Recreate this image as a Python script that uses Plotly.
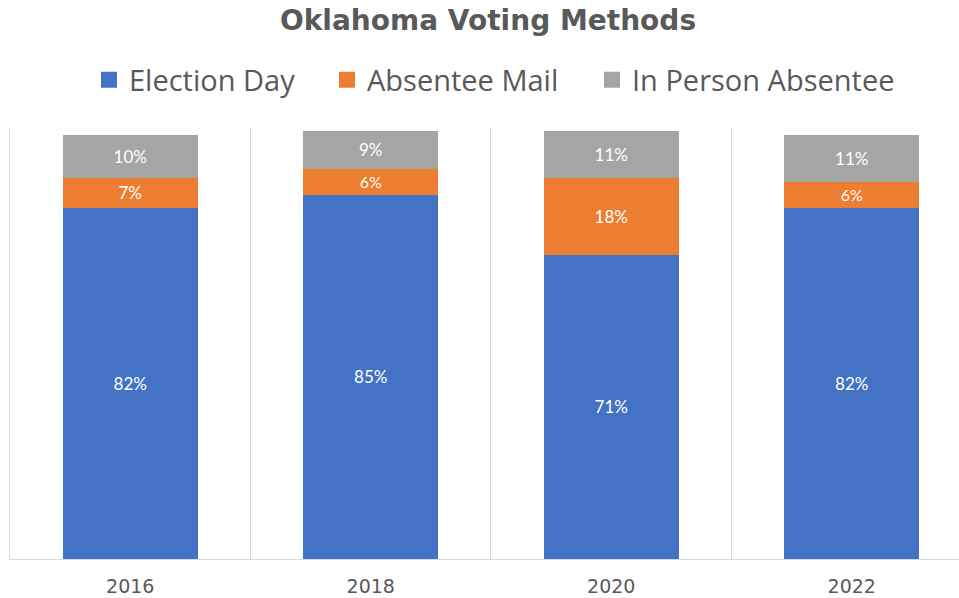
import plotly.graph_objects as go

# Share of votes cast by method, per election year (percent)
years = ["2016", "2018", "2020", "2022"]
election_day = [82, 85, 71, 82]
absentee_mail = [7, 6, 18, 6]
in_person_absentee = [10, 9, 11, 11]

series_names = ["Election Day", "Absentee Mail", "In Person Absentee"]
series_values = [election_day, absentee_mail, in_person_absentee]
series_colors = ["#4472C4", "#ED7D31", "#A5A5A5"]

LABEL_FONT = "Lato"
LEGEND_FONT = "Open Sans"
TEXT_GREY = "#595959"
GRID_GREY = "#D9D9D9"

# plot area geometry in pixels (used to place the separate legend boxes)
PLOT_LEFT, PLOT_RIGHT = 10, 959
PLOT_TOP, PLOT_BOTTOM = 128, 559
legend_left_px = [89, 327, 592]
legend_ids = ["legend", "legend2", "legend3"]

fig = go.Figure()

for name, vals, color in zip(series_names, series_values, series_colors):
    fig.add_trace(go.Bar(
        x=years,
        y=vals,
        name=name,
        marker=dict(color=color, line=dict(width=0)),
        texttemplate="%{y:.0f}%",
        textposition="inside",
        insidetextanchor="middle",
        textangle=0,
        textfont=dict(family=LABEL_FONT, size=17, color="white"),
        showlegend=False,
        hoverinfo="skip",
    ))

# Legend entries drawn as square swatches, one legend box per series
for name, color, lid in zip(series_names, series_colors, legend_ids):
    fig.add_trace(go.Scatter(
        x=[None], y=[None],
        mode="markers",
        name=name,
        marker=dict(symbol="square", size=16, color=color),
        showlegend=True,
        legend=lid,
    ))

plot_w = PLOT_RIGHT - PLOT_LEFT
plot_h = PLOT_BOTTOM - PLOT_TOP
legend_y = (PLOT_BOTTOM - 80) / plot_h

legend_layout = {}
for lid, left in zip(legend_ids, legend_left_px):
    legend_layout[lid] = dict(
        orientation="h",
        x=(left - PLOT_LEFT) / plot_w,
        xanchor="left",
        y=legend_y,
        yanchor="middle",
        font=dict(family=LEGEND_FONT, size=29, color=TEXT_GREY),
        itemsizing="trace",
        bgcolor="rgba(0,0,0,0)",
        borderwidth=0,
    )

fig.update_layout(
    width=959,
    height=598,
    autosize=False,
    margin=dict(l=PLOT_LEFT, r=959 - PLOT_RIGHT, t=PLOT_TOP, b=598 - PLOT_BOTTOM, pad=0),
    paper_bgcolor="white",
    plot_bgcolor="white",
    barmode="stack",
    bargap=0.44,
    title=dict(
        text="<b>Oklahoma Voting Methods</b>",
        font=dict(family="DejaVu Sans", size=28, color=TEXT_GREY),
        x=488 / 959,
        xref="container",
        xanchor="center",
        y=1 - 20 / 598,
        yref="container",
        yanchor="middle",
    ),
    xaxis=dict(
        type="category",
        categoryorder="array",
        categoryarray=years,
        range=[-0.5, 3.446],
        tickson="boundaries",
        showgrid=True,
        gridcolor=GRID_GREY,
        gridwidth=1,
        showline=True,
        linecolor=GRID_GREY,
        linewidth=1,
        ticks="",
        ticklabelstandoff=10,
        tickfont=dict(family="DejaVu Sans", size=19, color=TEXT_GREY),
        zeroline=False,
        fixedrange=True,
    ),
    yaxis=dict(
        range=[0, 100.6],
        showline=True,
        linecolor=GRID_GREY,
        linewidth=1,
        showticklabels=False,
        ticks="",
        showgrid=False,
        zeroline=False,
        fixedrange=True,
    ),
    **legend_layout,
)

fig.write_html("out.html")
